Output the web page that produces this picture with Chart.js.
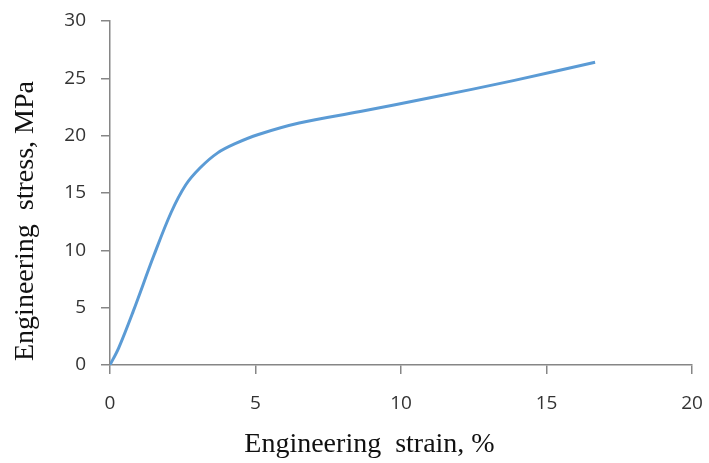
<!DOCTYPE html>
<html>
<head>
<meta charset="utf-8">
<script src="https://cdn.jsdelivr.net/npm/chart.js@4"></script>
<style>
  html, body { margin: 0; padding: 0; background: #fff; }
  #wrap { width: 709px; height: 463px; }
</style>
</head>
<body>
<div id="wrap"><canvas id="myChart" width="709" height="463"></canvas></div>
<script>
// values
const strain = [0, 0.3, 0.8, 1.5, 2.1, 2.6, 3.1, 3.7, 4.3, 5.1, 6.5, 8.6, 11.0, 13.86, 16.67];
const stress = [0, 1.5, 4.7, 9.5, 13.3, 15.7, 17.2, 18.5, 19.3, 20.1, 21.1, 22.1, 23.3, 24.8, 26.4];
const xTicks = [0, 5, 10, 15, 20];
const yTicks = [0, 5, 10, 15, 20, 25, 30];

const points = strain.map((s, i) => ({ x: s, y: stress[i] }));

const axisGray = '#868686';
const tickFont = { family: 'Open Sans', size: 19 };
const titleFont = { family: 'Liberation Serif', size: 28 };

const ctx = document.getElementById('myChart');

new Chart(ctx, {
  type: 'scatter',
  data: {
    datasets: [{
      data: points,
      showLine: true,
      borderColor: '#5B9BD5',
      borderWidth: 3,
      pointRadius: 0,
      tension: 0.35
    }]
  },
  options: {
    responsive: false,
    animation: false,
    layout: { padding: { top: 21, right: 17, left: 9, bottom: 2 } },
    plugins: { legend: { display: false }, tooltip: { enabled: false } },
    scales: {
      x: {
        type: 'linear',
        min: 0, max: 20,
        afterBuildTicks: (s) => { s.ticks = xTicks.map(v => ({ value: v })); },
        afterFit: (s) => { s.height = 96; s.paddingLeft = 0; s.paddingRight = 0; },
        border: { color: axisGray, width: 1.5 },
        grid: { drawOnChartArea: false, drawTicks: true, tickLength: 9, color: axisGray, lineWidth: 1.5 },
        ticks: { color: '#333', font: tickFont, padding: 18, maxRotation: 0 },
        // trailing spaces pull the title left, as in the original
        title: { display: true, text: 'Engineering  strain, %         ', color: '#111', font: titleFont, padding: { top: 0, bottom: 0 } }
      },
      y: {
        type: 'linear',
        min: 0, max: 30,
        afterBuildTicks: (s) => { s.ticks = yTicks.map(v => ({ value: v })); },
        afterFit: (s) => { s.width = 101; s.paddingTop = 0; s.paddingBottom = 0; },
        border: { color: axisGray, width: 1.5 },
        grid: { drawOnChartArea: false, drawTicks: true, tickLength: 9, color: axisGray, lineWidth: 1.5 },
        ticks: { color: '#333', font: tickFont, padding: 15 },
        title: { display: true, text: 'Engineering  stress, MPa        ', color: '#111', font: titleFont, padding: { top: 0, bottom: 0 } }
      }
    }
  }
});
</script>
</body>
</html>
